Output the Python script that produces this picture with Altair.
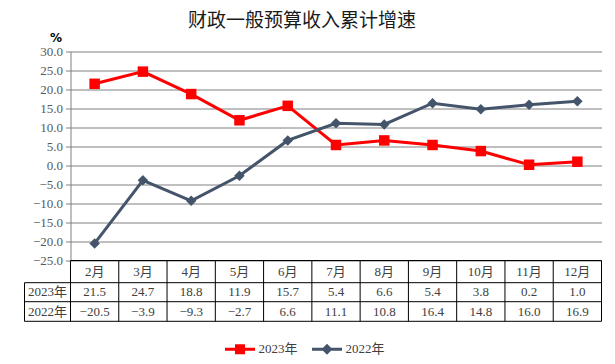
import altair as alt
import pandas as pd

months = ["2月", "3月", "4月", "5月", "6月", "7月", "8月", "9月", "10月", "11月", "12月"]
v2023 = [21.5, 24.7, 18.8, 11.9, 15.7, 5.4, 6.6, 5.4, 3.8, 0.2, 1.0]
v2022 = [-20.5, -3.9, -9.3, -2.7, 6.6, 11.1, 10.8, 16.4, 14.8, 16.0, 16.9]
series = ["2023年", "2022年"]
colors = ["#FF0000", "#44546A"]
y_ticks = [-25, -20, -15, -10, -5, 0, 5, 10, 15, 20, 25, 30]

df = pd.DataFrame(
    {
        "month": months * 2,
        "series": [series[0]] * len(months) + [series[1]] * len(months),
        "value": v2023 + v2022,
    }
)
mdf = pd.DataFrame({"month": months})
one = pd.DataFrame({"a": [0]})

W, H = 531, 209
ROW_TOP = [H, 231.2, 250.2, 269.8]
LABEL_LEFT = -46
SERIF = "Liberation Serif, Noto Sans CJK SC"
TXT = "#404040"

xscale = alt.Scale(type="band", domain=months, paddingInner=0, paddingOuter=0)
X = alt.X("month:N", sort=months, scale=xscale, axis=None)
yscale = alt.Scale(domain=[-25, 30], nice=False, zero=False)
YAXIS = alt.Axis(
    values=y_ticks,
    format=".1f",
    title="%",
    titleAngle=0,
    titleX=-15,
    titleY=-14,
    titleAlign="center",
    titleBaseline="middle",
    titleFont="DejaVu Sans",
    titleFontSize=12,
    titleFontWeight="bold",
    titleColor="#000000",
    labelFont=SERIF,
    labelFontSize=13,
    labelColor="#595959",
    labelPadding=3,
    labelOverlap=False,
    labelFlush=False,
    tickSize=5,
    tickColor="#808080",
    domainColor="#808080",
    grid=True,
    gridColor="#808080",
    gridWidth=1,
)
YQ = alt.Y("value:Q", scale=yscale, axis=YAXIS)

color_nolegend = alt.Color("series:N", scale=alt.Scale(domain=series, range=colors), legend=None)

lines = alt.Chart(df).mark_line(strokeWidth=3).encode(x=X, y=YQ, color=color_nolegend)

points = alt.Chart(df).mark_point(filled=True, size=110, opacity=1).encode(
    x=X,
    y=YQ,
    color=color_nolegend,
    shape=alt.Shape("series:N", scale=alt.Scale(domain=series, range=["square", "diamond"]), legend=None),
)

# legend (symbols = line + marker)
leg_paths = [
    "M-3,-0.3H3V0.3H-3Z M-1,-1H1V1H-1Z",
    "M-3,-0.3H3V0.3H-3Z M0,-1.1L1.1,0L0,1.1L-1.1,0Z",
]
legend_props = dict(
    title=None,
    orient="none",
    legendX=163,
    legendY=291,
    direction="horizontal",
    symbolSize=100,
    symbolStrokeWidth=0,
    labelOffset=12,
    columnPadding=13,
    labelFont=SERIF,
    labelFontSize=13,
    labelColor=TXT,
    padding=0,
)
legend_layer = (
    alt.Chart(df)
    .transform_filter("false")
    .mark_point(filled=True, opacity=1)
    .encode(
        x=X,
        y=YQ,
        color=alt.Color("series:N", scale=alt.Scale(domain=series, range=colors), legend=alt.Legend(**legend_props)),
        shape=alt.Shape("series:N", scale=alt.Scale(domain=series, range=leg_paths), legend=alt.Legend(**legend_props)),
    )
)

# table
header = alt.Chart(mdf).mark_text(font=SERIF, fontSize=13, color=TXT, baseline="middle").encode(
    x=X, y=alt.value((ROW_TOP[0] + ROW_TOP[1]) / 2), text="month:N"
)
row_layers = []
for i, s in enumerate(series):
    row_layers.append(
        alt.Chart(df)
        .transform_filter(alt.datum.series == s)
        .mark_text(font=SERIF, fontSize=13, color=TXT, baseline="middle")
        .encode(x=X, y=alt.value((ROW_TOP[i + 1] + ROW_TOP[i + 2]) / 2), text=alt.Text("value:Q", format=".1f"))
    )
    row_layers.append(
        alt.Chart(one)
        .mark_text(text=s, font=SERIF, fontSize=13, color=TXT, baseline="middle", align="center")
        .encode(x=alt.value(LABEL_LEFT / 2), y=alt.value((ROW_TOP[i + 1] + ROW_TOP[i + 2]) / 2))
    )

rules = []
rules.append(alt.Chart(one).mark_rule(color="black", strokeWidth=1).encode(x=alt.value(0), x2=alt.value(W), y=alt.value(ROW_TOP[0])))
for yy in ROW_TOP[1:]:
    rules.append(alt.Chart(one).mark_rule(color="black", strokeWidth=1).encode(x=alt.value(LABEL_LEFT), x2=alt.value(W), y=alt.value(yy)))
rules.append(
    alt.Chart(mdf).mark_rule(color="black", strokeWidth=1).encode(
        x=alt.X("month:N", sort=months, scale=xscale, axis=None, bandPosition=0),
        y=alt.value(ROW_TOP[0]),
        y2=alt.value(ROW_TOP[3]),
    )
)
rules.append(alt.Chart(one).mark_rule(color="black", strokeWidth=1).encode(x=alt.value(W), y=alt.value(ROW_TOP[0]), y2=alt.value(ROW_TOP[3])))
rules.append(alt.Chart(one).mark_rule(color="black", strokeWidth=1).encode(x=alt.value(LABEL_LEFT), y=alt.value(ROW_TOP[1]), y2=alt.value(ROW_TOP[3])))

chart = (
    alt.layer(lines, points, legend_layer, header, *row_layers, *rules)
    .resolve_scale(color="independent", shape="independent")
    .properties(
        width=W,
        height=H,
        autosize=alt.AutoSizeParams(type="none"),
        padding={"left": 62.5, "top": 43.5, "right": 5.5, "bottom": 95.5},
        title=alt.TitleParams(
            "财政一般预算收入累计增速",
            font="Noto Sans CJK SC",
            fontSize=19,
            fontWeight="normal",
            color="#1a1a1a",
            anchor="middle",
            frame="group",
            dx=-34,
            offset=1,
        ),
    )
    .configure_view(stroke=None)
)

chart.save("out.html", embed_options={"renderer": "svg", "actions": False})
